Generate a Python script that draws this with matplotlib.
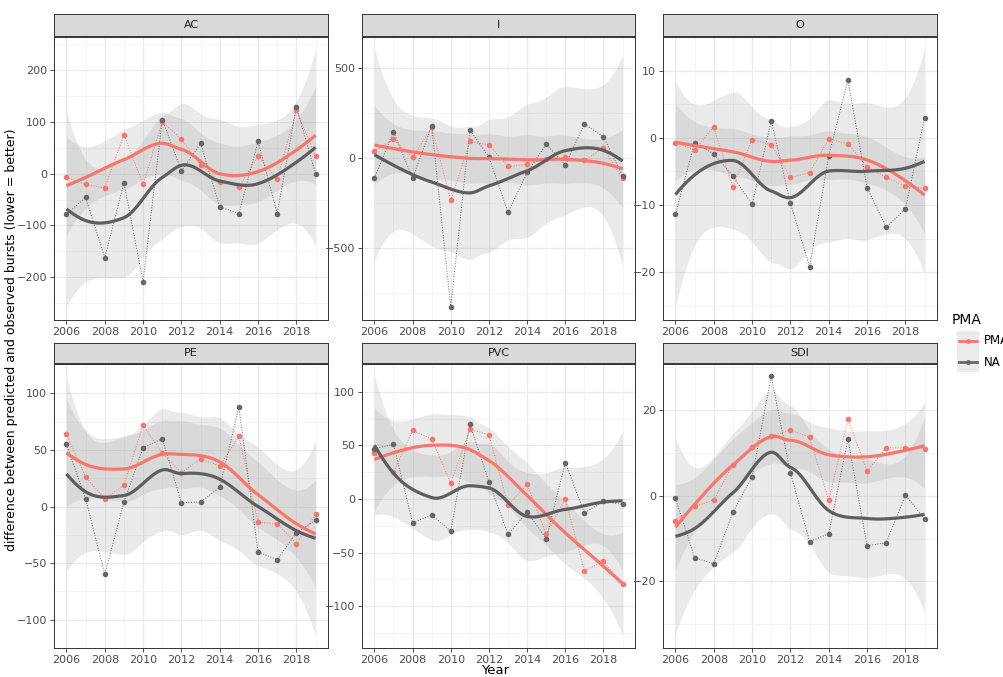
import matplotlib
matplotlib.use('Agg')

import math
import numpy as np
import matplotlib.pyplot as plt
from matplotlib.lines import Line2D
from matplotlib.patches import Rectangle

# -----------------------------
# Data
# -----------------------------
years = np.arange(2006, 2020)
panels = ['AC', 'I', 'O', 'PE', 'PVC', 'SDI']

ac_pma = [-7, -21, -28, 75, -21, 100, 66, 17, -16, -26, 33, -10, 122, 33]
ac_na = [-78, -46, -162, -18, -208, 104, 5, 58, -64, -77, 62, -77, 128, 0]
i_pma = [37, 102, 2, 170, -237, 91, 72, -48, -37, -4, 2, -13, 52, -115]
i_na = [-113, 146, -113, 176, -831, 156, 4, -304, -81, 76, -39, 187, 117, -100]
o_pma = [-0.7, -1.8, 1.6, -7.3, -0.25, -1.0, -5.9, -5.2, -0.15, -0.9, -4.3, -5.9, -7.2, -7.5]
o_na = [-11.4, -0.7, -2.4, -5.7, -9.9, 2.5, -9.7, -19.2, -2.7, 8.6, -7.4, -13.3, -10.6, 3.0]
pe_pma = [64, 26, 7, 19, 72, 47, 30, 42, 36, 62, -14, -15, -33, -7]
pe_na = [55, 7, -60, 4, 52, 60, 3.5, 4, 17, 88, -40, -47, -23, -12]
pvc_pma = [43, 25, 64, 56, 15, 65, 60, -6, 14, -33, 0, -67, -58, -79]
pvc_na = [47, 51, -22, -15, -30, 70, 16, -33, -12, -37, 34, -13, -2, -5]
sdi_pma = [-5.8, -2.5, -1.0, 7.3, 11.4, 14.0, 15.3, 13.7, -1.1, 18.0, 5.8, 11.2, 11.2, 11.0]
sdi_na = [-0.6, -14.5, -15.9, -3.8, 4.4, 27.9, 5.4, -10.7, -8.9, 13.2, -11.7, -11.0, 0.2, -5.4]

series = {
    'AC': (ac_pma, ac_na), 'I': (i_pma, i_na), 'O': (o_pma, o_na),
    'PE': (pe_pma, pe_na), 'PVC': (pvc_pma, pvc_na), 'SDI': (sdi_pma, sdi_na),
}

yticks = {
    'AC': [-200, -100, 0, 100, 200], 'I': [-500, 0, 500], 'O': [-20, -10, 0, 10],
    'PE': [-100, -50, 0, 50, 100], 'PVC': [-100, -50, 0, 50, 100], 'SDI': [-20, 0, 20],
}
ylims = {
    'AC': (-282, 263), 'I': (-902, 672), 'O': (-27.1, 15.0),
    'PE': (-125, 126), 'PVC': (-139, 126), 'SDI': (-35.6, 30.8),
}

RED = '#F8766D'
GREY = '#666666'


# -----------------------------
# loess (span 0.75, degree 2, interpolated surface) like geom_smooth
# -----------------------------
def local_rows(x, x0, span=0.75):
    n = len(x)
    q = int(np.floor(n * span))
    d = np.abs(x - x0)
    h = np.sort(d)[q - 1] * 1.0001
    u = np.clip(d / h, 0, 1)
    w = (1 - u ** 3) ** 3
    X = np.column_stack([np.ones(n), x - x0, (x - x0) ** 2])
    XtW = X.T * w
    B = np.linalg.solve(XtW @ X, XtW)
    return B[0], B[1]


def kd_vertices(x, fc):
    # 1-d kd tree: cells split at the median data value until <= fc points
    xs = np.sort(x)
    mu = 0.005 * (xs[-1] - xs[0])
    verts = {xs[0] - mu, xs[-1] + mu}

    def split(lo, hi):
        if hi - lo + 1 <= fc:
            return
        m = (lo + hi) // 2
        verts.add(xs[m])
        split(lo, m)
        split(m + 1, hi)

    split(0, len(xs) - 1)
    return np.array(sorted(verts))


def interp_rows(x, x_eval, span=0.75):
    fc = int(np.floor(len(x) * span * 0.2))
    v = kd_vertices(x, fc)
    vals, slopes = zip(*[local_rows(x, vv, span) for vv in v])
    vals = np.array(vals)
    slopes = np.array(slopes)
    out = []
    for xe in x_eval:
        j = min(max(np.searchsorted(v, xe) - 1, 0), len(v) - 2)
        hh = v[j + 1] - v[j]
        t = (xe - v[j]) / hh
        h00 = 2 * t ** 3 - 3 * t ** 2 + 1
        h10 = t ** 3 - 2 * t ** 2 + t
        h01 = -2 * t ** 3 + 3 * t ** 2
        h11 = t ** 3 - t ** 2
        out.append(h00 * vals[j] + h10 * hh * slopes[j] + h01 * vals[j + 1] + h11 * hh * slopes[j + 1])
    return np.array(out)


def t_quantile(p, df):
    c = math.exp(math.lgamma((df + 1) / 2) - math.lgamma(df / 2)) / math.sqrt(df * math.pi)
    grid = np.linspace(0, 10, 20001)
    pdf = c * (1 + grid ** 2 / df) ** (-(df + 1) / 2)
    cdf = 0.5 + np.concatenate([[0], np.cumsum((pdf[1:] + pdf[:-1]) / 2 * np.diff(grid))])
    return np.interp(p, cdf, grid)


def smooth(x, y, n_out=80):
    x = np.asarray(x, float)
    y = np.asarray(y, float)
    xs = np.linspace(x.min(), x.max(), n_out)
    L = interp_rows(x, x)
    res = y - L @ y
    M = np.eye(len(x)) - L
    MM = M.T @ M
    d1 = np.trace(MM)
    d2 = np.trace(MM @ MM)
    s = np.sqrt(np.sum(res ** 2) / d1)
    Ls = interp_rows(x, xs)
    fit = Ls @ y
    se = s * np.sqrt(np.sum(Ls ** 2, axis=1))
    tq = t_quantile(0.975, d1 ** 2 / d2)
    return xs, fit, fit - tq * se, fit + tq * se


# -----------------------------
# Layout (pixel boxes)
# -----------------------------
W, H = 1004, 677
fig = plt.figure(figsize=(W / 100, H / 100), dpi=100)


def rect(l, r, t, b):
    return [l / W, 1 - b / H, (r - l) / W, (b - t) / H]


cols = [(54, 328), (362, 635), (663, 937)]
rows = [((14, 36), (37, 320)), ((343, 363), (364, 648))]

for k, name in enumerate(panels):
    l, r = cols[k % 3]
    (st, sb), (pt, pb) = rows[k // 3]

    ax = fig.add_axes(rect(l, r, pt, pb))
    ax.set_facecolor('white')
    ax.set_axisbelow(True)

    pma, na = series[name]
    fits = [smooth(years, pma), smooth(years, na)]

    for xs, fit, lo, hi in fits:
        ax.fill_between(xs, lo, hi, color='#999999', alpha=0.2, lw=0, zorder=1)
    for vals, c in [(pma, RED), (na, GREY)]:
        ax.plot(years, vals, ls=':', lw=0.7, color=c, zorder=2)
    for vals, c in [(pma, RED), (na, GREY)]:
        ax.scatter(years, vals, s=16, color=c, lw=0, zorder=3)
    for (xs, fit, lo, hi), c in zip(fits, [RED, '#5E5E5E']):
        ax.plot(xs, fit, lw=2.3, color=c, zorder=4, solid_capstyle='butt')

    ax.set_xlim(2005.35, 2019.65)
    ax.set_xticks(np.arange(2006, 2019, 2))
    ax.set_xticks(np.arange(2007, 2020, 2), minor=True)
    yt = yticks[name]
    ax.set_yticks(yt)
    step = yt[1] - yt[0]
    ax.set_yticks(np.arange(yt[0] - step / 2, yt[-1] + step, step), minor=True)
    ax.set_ylim(*ylims[name])
    ax.grid(which='major', color='#EBEBEB', lw=0.9)
    ax.grid(which='minor', color='#F2F2F2', lw=0.5)
    ax.tick_params(which='major', length=3, width=0.6, color='#333333',
                   labelsize=8, labelcolor='#4D4D4D', pad=2)
    ax.tick_params(which='minor', length=0)
    for sp in ax.spines.values():
        sp.set_color('#333333')
        sp.set_linewidth(0.7)

    sax = fig.add_axes(rect(l, r, st, sb))
    sax.set_facecolor('#D9D9D9')
    sax.set_xticks([])
    sax.set_yticks([])
    for sp in sax.spines.values():
        sp.set_color('#333333')
        sp.set_linewidth(0.7)
    sax.text(0.5, 0.5, name, ha='center', va='center', fontsize=8, color='#1A1A1A',
             transform=sax.transAxes)

# axis titles
fig.text(12 / W, 1 - 340 / H, 'difference between predicted and observed bursts (lower = better)',
         rotation=90, ha='center', va='center', fontsize=9)
fig.text(495 / W, 1 - 671 / H, 'Year', ha='center', va='center', fontsize=9.5)

# legend
fig.text(952 / W, 1 - 320 / H, 'PMA', ha='left', va='center', fontsize=10)
fig.patches.append(Rectangle((957 / W, 1 - 372 / H), 22 / W, 41 / H, transform=fig.transFigure,
                             facecolor='#EBEBEB', edgecolor='none'))
for yy, c, lab in [(341, RED, 'PMA'), (362, GREY, 'NA')]:
    fig.lines.append(Line2D([959 / W, 977 / W], [1 - yy / H] * 2, transform=fig.transFigure,
                            color=c, lw=2.0))
    fig.lines.append(Line2D([968 / W], [1 - yy / H], transform=fig.transFigure,
                            color=c, marker='o', markersize=3.5, markeredgewidth=0, lw=0))
    fig.text(984 / W, 1 - yy / H, lab, ha='left', va='center', fontsize=8.5)

fig.savefig('out.png', dpi=100)
